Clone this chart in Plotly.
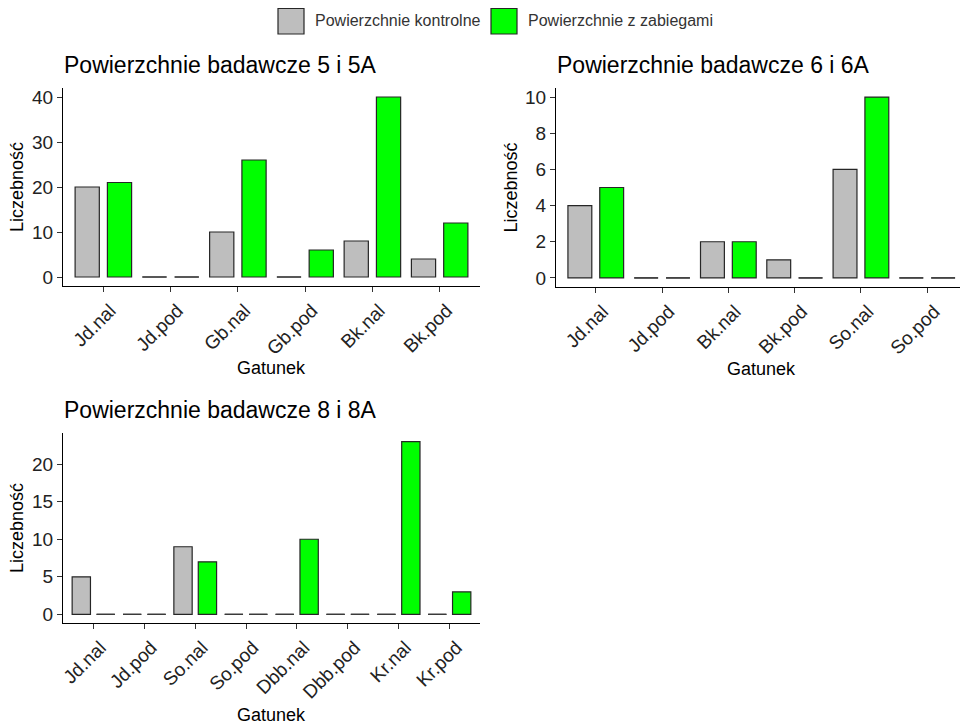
import plotly.graph_objects as go

# ---------------- data ----------------
series_names = ["Powierzchnie kontrolne", "Powierzchnie z zabiegami"]
series_colors = ["#BEBEBE", "#00FF00"]

titles = ["Powierzchnie badawcze 5 i 5A",
          "Powierzchnie badawcze 6 i 6A",
          "Powierzchnie badawcze 8 i 8A"]

cat1 = ["Jd.nal", "Jd.pod", "Gb.nal", "Gb.pod", "Bk.nal", "Bk.pod"]
ctrl1 = [20, 0, 10, 0, 8, 4]
trt1 = [21, 0, 26, 6, 40, 12]

cat2 = ["Jd.nal", "Jd.pod", "Bk.nal", "Bk.pod", "So.nal", "So.pod"]
ctrl2 = [4, 0, 2, 1, 6, 0]
trt2 = [5, 0, 2, 0, 10, 0]

cat3 = ["Jd.nal", "Jd.pod", "So.nal", "So.pod", "Dbb.nal", "Dbb.pod", "Kr.nal", "Kr.pod"]
ctrl3 = [5, 0, 9, 0, 0, 0, 0, 0]
trt3 = [0, 0, 7, 0, 10, 0, 23, 3]

y_ticks1 = [0, 10, 20, 30, 40]
y_ticks2 = [0, 2, 4, 6, 8, 10]
y_ticks3 = [0, 5, 10, 15, 20]

x_title = "Gatunek"
y_title = "Liczebność"

# ---------------- layout helpers ----------------
# page body has an 8px margin, so the figure is made 8px smaller and
# all window-pixel positions are shifted by that offset
OFF = 8
W, H = 968 - OFF, 725 - OFF
FONT = "Liberation Sans, Arial, sans-serif"


def fx(p):
    return (p - OFF) / W


def fy(p):
    return 1 - (p - OFF) / H


panels = [
    dict(cats=cat1, vals=[ctrl1, trt1], ticks=y_ticks1, title=titles[0],
         xpx=(63, 480), ypx=(88, 286), xt_gap=82),
    dict(cats=cat2, vals=[ctrl2, trt2], ticks=y_ticks2, title=titles[1],
         xpx=(556, 967), ypx=(88, 287), xt_gap=82),
    dict(cats=cat3, vals=[ctrl3, trt3], ticks=y_ticks3, title=titles[2],
         xpx=(63, 480), ypx=(433, 623), xt_gap=92),
]

OFFSETS = [-0.24, 0.24]
BAR_W = 0.36
EDGE = "#262626"

fig = go.Figure()
annotations = []
shapes = []

for pi, p in enumerate(panels):
    sfx = "" if pi == 0 else str(pi + 1)
    xa, ya = "x" + sfx, "y" + sfx
    n = len(p["cats"])
    for k, vals in enumerate(p["vals"]):
        xs = [i + 1 + OFFSETS[k] for i in range(n)]
        fig.add_trace(go.Bar(
            x=xs, y=vals, width=BAR_W, name=series_names[k],
            marker=dict(color=series_colors[k], line=dict(color=EDGE, width=1.2)),
            xaxis=xa, yaxis=ya, showlegend=False))
        # zero-count bars drawn as flat outlines
        lx, ly = [], []
        for x, v in zip(xs, vals):
            if v == 0:
                lx += [x - BAR_W / 2, x + BAR_W / 2, None]
                ly += [0, 0, None]
        if lx:
            fig.add_trace(go.Scatter(
                x=lx, y=ly, mode="lines", line=dict(color="#3a3a3a", width=1.3),
                xaxis=xa, yaxis=ya, showlegend=False, hoverinfo="skip"))

    vmax = max(max(v) for v in p["vals"])
    pad = 0.05 * vmax
    xdom = [fx(p["xpx"][0]), min(1.0, fx(p["xpx"][1]))]
    ydom = [fy(p["ypx"][1]), fy(p["ypx"][0])]
    common = dict(showgrid=False, zeroline=False, showline=True, linecolor="black",
                  linewidth=1, ticks="outside", ticklen=5, tickcolor="#333333",
                  tickwidth=1, automargin=False,
                  tickfont=dict(family=FONT, size=19, color="#222222"))
    fig.update_layout(**{
        "xaxis" + sfx: dict(domain=xdom, anchor=ya, range=[0.4, n + 0.6],
                            tickvals=list(range(1, n + 1)), ticktext=p["cats"],
                            tickangle=-45, ticklabelshift=7, **common),
        "yaxis" + sfx: dict(domain=ydom, anchor=xa, range=[-pad, vmax + pad],
                            tickvals=p["ticks"], **common),
    })

    x0, x1 = p["xpx"]
    y0, y1 = p["ypx"]
    annotations.append(dict(text=p["title"], x=fx(x0 - 1), y=fy(y0 - 23), xref="paper",
                            yref="paper", xanchor="left", yanchor="middle",
                            showarrow=False, font=dict(family=FONT, size=23, color="black")))
    annotations.append(dict(text=y_title, x=fx(x0 - 46), y=fy((y0 + y1) / 2), xref="paper",
                            yref="paper", xanchor="center", yanchor="middle", textangle=-90,
                            showarrow=False, font=dict(family=FONT, size=18, color="black")))
    annotations.append(dict(text=x_title, x=fx((x0 + x1) / 2), y=fy(y1 + p["xt_gap"]),
                            xref="paper", yref="paper", xanchor="center", yanchor="middle",
                            showarrow=False, font=dict(family=FONT, size=18, color="black")))

# custom legend (top centre)
legend_boxes = [(278, 304), (491, 517)]
for k, (bx0, bx1) in enumerate(legend_boxes):
    shapes.append(dict(type="rect", xref="paper", yref="paper",
                       x0=fx(bx0), x1=fx(bx1), y0=fy(34), y1=fy(8.5),
                       fillcolor=series_colors[k], line=dict(color=EDGE, width=1.2)))
    annotations.append(dict(text=series_names[k], x=fx(bx1 + 9), y=fy(20.5),
                            xref="paper", yref="paper", xanchor="left", yanchor="middle",
                            showarrow=False, font=dict(family=FONT, size=16, color="#333333")))

fig.update_layout(
    width=W, height=H, margin=dict(l=0, r=0, t=0, b=0, autoexpand=False),
    paper_bgcolor="white", plot_bgcolor="white",
    barmode="overlay", showlegend=False,
    annotations=annotations, shapes=shapes,
    font=dict(family=FONT),
)

fig.write_html("out.html")
